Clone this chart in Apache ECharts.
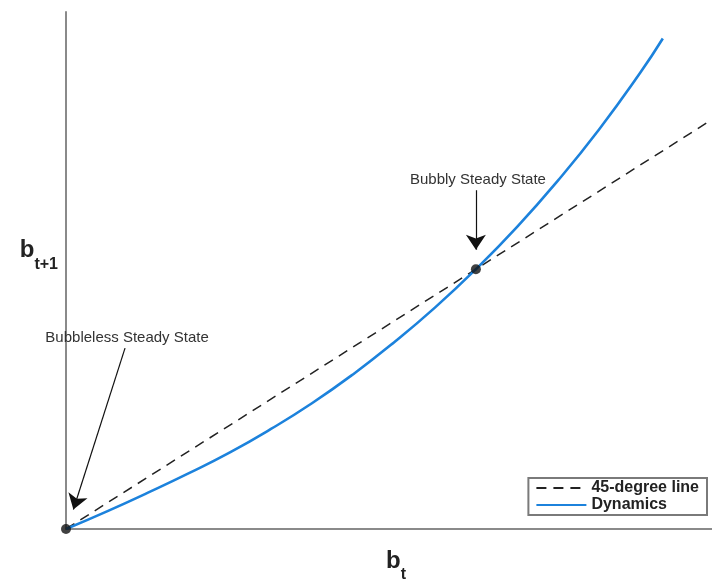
<!DOCTYPE html>
<html>
<head>
<meta charset="utf-8">
<script src="https://cdn.jsdelivr.net/npm/echarts@6/dist/echarts.min.js"></script>
<style>html,body{margin:0;padding:0;background:#fff}#c{width:712px;height:587px}</style>
</head>
<body>
<div id="c"></div>
<script>
// Data (b_t on x, b_{t+1} on y; bubbly steady state at 1)
var btValues = [0, 0.1, 0.2, 0.3, 0.4, 0.5, 0.6, 0.7, 0.8, 0.9, 1.0, 1.1, 1.2, 1.3, 1.4, 1.456];
var dynamicsValues = [0, 0.068, 0.14, 0.215, 0.295, 0.385, 0.484, 0.595, 0.718, 0.852, 1.0, 1.162, 1.341, 1.537, 1.754, 1.888];
var line45 = [[0, 0], [1.576, 1.576]];
var steadyStates = [[0, 0], [1, 1]];
var annotations = [
  { name: 'Bubbly Steady State', text: [1.005, 1.345], from: [1, 1.304], to: [1, 1.075] },
  { name: 'Bubbleless Steady State', text: [0.149, 0.737], from: [0.144, 0.696], to: [0.018, 0.075] }
];
var xMax = 1.576, yMax = 1.99;

var font = 'Helvetica, Arial, "Liberation Sans", sans-serif';
var chart = echarts.init(document.getElementById('c'));

var dynData = btValues.map(function (x, i) { return [x, dynamicsValues[i]]; });

chart.setOption({
  animation: false,
  backgroundColor: '#fff',
  grid: { left: 66, right: 0, top: 12, bottom: 58, outerBoundsMode: 'none', containLabel: false },
  xAxis: {
    type: 'value', min: 0, max: xMax,
    axisLine: { show: true, lineStyle: { color: '#8a8a8a', width: 2 } },
    axisTick: { show: false }, axisLabel: { show: false }, splitLine: { show: false },
    name: '{b|b}{s|t}', nameLocation: 'middle', nameGap: 16,
    nameTextStyle: {
      padding: [0, 0, 0, 14],
      rich: {
        b: { fontFamily: font, fontWeight: 'bold', fontSize: 24, color: '#222', verticalAlign: 'bottom', lineHeight: 28 },
        s: { fontFamily: font, fontWeight: 'bold', fontSize: 16, color: '#222', verticalAlign: 'bottom', lineHeight: 28, padding: [0, 0, -10, 0] }
      }
    }
  },
  yAxis: {
    type: 'value', min: 0, max: yMax,
    axisLine: { show: true, lineStyle: { color: '#8a8a8a', width: 2 } },
    axisTick: { show: false }, axisLabel: { show: false }, splitLine: { show: false },
    name: '{b|b}{s|t+1}', nameLocation: 'middle', nameRotate: 0, nameGap: 8,
    nameTextStyle: {
      padding: [0, 0, 44, 0],
      rich: {
        b: { fontFamily: font, fontWeight: 'bold', fontSize: 24, color: '#222', verticalAlign: 'bottom', lineHeight: 28 },
        s: { fontFamily: font, fontWeight: 'bold', fontSize: 16, color: '#222', verticalAlign: 'bottom', lineHeight: 28, padding: [0, 0, -10, 0] }
      }
    }
  },
  legend: {
    orient: 'vertical', right: 5, bottom: 72,
    backgroundColor: '#fff',
    borderColor: '#7a7a7a', borderWidth: 2, borderRadius: 0,
    padding: [2, 8, 2, 7], itemGap: 1, itemWidth: 50, itemHeight: 14,
    itemStyle: { opacity: 0, borderWidth: 0 },
    textStyle: { fontFamily: font, fontWeight: 'bold', fontSize: 16, color: '#222' },
    data: ['45-degree line', 'Dynamics']
  },
  series: [
    {
      name: '45-degree line', type: 'line', data: line45, symbol: 'none',
      itemStyle: { color: '#222' },
      lineStyle: { color: '#222', width: 1.5, type: [10, 7] }, z: 2
    },
    {
      name: 'Dynamics', type: 'line', data: dynData, symbol: 'none', smooth: true,
      itemStyle: { color: '#1c82dc' },
      lineStyle: { color: '#1c82dc', width: 2.6 }, z: 3
    },
    {
      name: 'steady', type: 'scatter', data: steadyStates, symbolSize: 10, clip: false,
      itemStyle: { color: '#111' }, z: 5,
      markLine: {
        silent: true, symbol: ['none', 'arrow'], symbolSize: 15, precision: 4,
        itemStyle: { color: '#111' },
        lineStyle: { color: '#111', width: 1.2, type: 'solid' },
        label: { show: false },
        data: annotations.map(function (a) {
          return [{ coord: a.from }, { coord: a.to }];
        })
      },
      markPoint: {
        silent: true, symbol: 'rect', symbolSize: 0,
        label: { show: true, position: 'inside', fontFamily: font, fontSize: 15, color: '#333',
          formatter: function (p) { return p.name; } },
        data: annotations.map(function (a) { return { name: a.name, coord: a.text }; })
      }
    }
  ]
});
</script>
</body>
</html>
